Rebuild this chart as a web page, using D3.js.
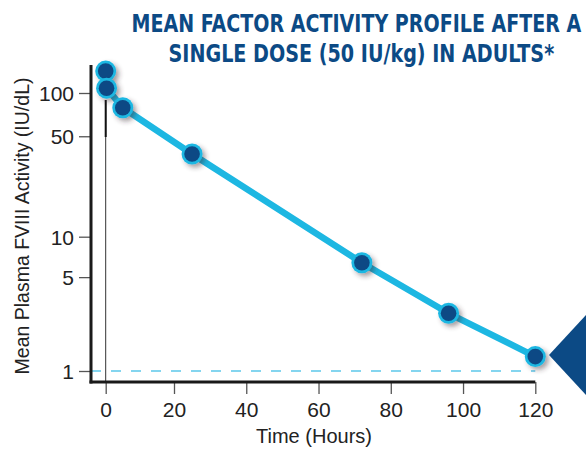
<!DOCTYPE html>
<html>
<head>
<meta charset="utf-8">
<script src="https://cdn.jsdelivr.net/npm/d3@7"></script>
<style>
  html, body { margin: 0; padding: 0; background: #ffffff; }
  svg { display: block; }
</style>
</head>
<body>
<div id="chart"></div>
<script>
// ---- data ----
const hours = [0, 0.25, 5, 25, 72, 96, 120];
const activity = [142, 108, 79, 37.6, 6.4, 2.69, 1.28];
const xTicks = [0, 20, 40, 60, 80, 100, 120];
const yTicks = [1, 5, 10, 50, 100];
const refLevel = [1];
const titleLines = ["MEAN FACTOR ACTIVITY PROFILE AFTER A", "SINGLE DOSE (50 IU/kg) IN ADULTS*"];
const xTitle = "Time (Hours)";
const yTitle = "Mean Plasma FVIII Activity (IU/dL)";

const W = 586, H = 451;
const navy = "#0c4a85";
const cyan = "#1db7e2";
const ink = "#222222";

const svg = d3.select("#chart").append("svg")
  .attr("width", W).attr("height", H);

const defs = svg.append("defs");
const f = defs.append("filter").attr("id", "shadow")
  .attr("x", "-50%").attr("y", "-50%").attr("width", "200%").attr("height", "200%");
f.append("feDropShadow").attr("dx", 3).attr("dy", 3).attr("stdDeviation", 2.5)
  .attr("flood-color", "#3a2a30").attr("flood-opacity", 0.45);

// scales (piecewise to follow the printed tick spacing)
const x = d3.scaleLinear().domain([0, 20, 120]).range([105.7, 174, 535.3]);
const y = d3.scaleLog().domain([1, 10, 100]).range([371, 236.7, 93]);

const axisLeftX = 91, axisBottomY = 382;

// title (condensed by a horizontal scale so the box really fits)
const titlePos = [{ x: 131.5, y: 32, w: 450 }, { x: 168.5, y: 62, w: 386 }];
svg.append("g").selectAll("text").data(titleLines).join("text")
  .attr("font-family", "'Liberation Sans Narrow', 'DejaVu Sans', sans-serif")
  .attr("font-weight", "bold")
  .attr("font-size", 25)
  .attr("fill", navy)
  .text(d => d)
  .each(function (d, i) {
    const nat = this.getComputedTextLength();
    const p = titlePos[i];
    const sx = nat > 0 ? p.w / nat : 1;
    d3.select(this).attr("transform", `translate(${p.x},${p.y}) scale(${sx},1)`);
  });

// reference dashed line at 1
svg.append("g").selectAll("line").data(refLevel).join("line")
  .attr("x1", axisLeftX).attr("x2", x(120))
  .attr("y1", d => y(d)).attr("y2", d => y(d))
  .attr("stroke", "#5cc8ea").attr("stroke-width", 1.5)
  .attr("stroke-dasharray", "10,10");

// thin vertical line at time 0
svg.append("line")
  .attr("x1", x(0)).attr("x2", x(0))
  .attr("y1", 100).attr("y2", axisBottomY)
  .attr("stroke", "#333").attr("stroke-width", 1);
svg.append("line")
  .attr("x1", x(0)).attr("x2", x(0))
  .attr("y1", 100).attr("y2", 137)
  .attr("stroke", "#111").attr("stroke-width", 2);

// y axis
const yAxis = d3.axisLeft(y).tickValues(yTicks).tickFormat(d3.format("d"))
  .tickSize(12).tickPadding(5);
const gy = svg.append("g").attr("transform", `translate(${axisLeftX},0)`).call(yAxis);
gy.select(".domain").remove();
gy.selectAll(".tick line").attr("stroke", "#555").attr("stroke-width", 1.3);
gy.selectAll(".tick text").attr("font-family", "'Liberation Sans', Arial, sans-serif")
  .attr("font-size", 21).attr("fill", ink).attr("dy", "0.36em");

// x axis
const xAxis = d3.axisBottom(x).tickValues(xTicks).tickFormat(d3.format("d"))
  .tickSize(12).tickPadding(8);
const gx = svg.append("g").attr("transform", `translate(0,${axisBottomY})`).call(xAxis);
gx.select(".domain").remove();
gx.selectAll(".tick line").attr("stroke", "#555").attr("stroke-width", 1.3);
gx.selectAll(".tick text").attr("font-family", "'Liberation Sans', Arial, sans-serif")
  .attr("font-size", 21).attr("fill", ink).attr("dy", "0.71em");

// axis lines
svg.append("line").attr("x1", axisLeftX).attr("x2", axisLeftX)
  .attr("y1", 65).attr("y2", axisBottomY + 1.5)
  .attr("stroke", "#1a1a1a").attr("stroke-width", 3);
svg.append("line").attr("x1", axisLeftX - 1.5).attr("x2", x(120))
  .attr("y1", axisBottomY).attr("y2", axisBottomY)
  .attr("stroke", "#1a1a1a").attr("stroke-width", 3);

// axis titles
svg.append("text").attr("x", 314).attr("y", 443)
  .attr("text-anchor", "middle")
  .attr("font-family", "'Liberation Sans', Arial, sans-serif")
  .attr("font-size", 20).attr("fill", ink).text(xTitle);
svg.append("text")
  .attr("transform", "translate(29,226) rotate(-90)")
  .attr("text-anchor", "middle")
  .attr("font-family", "'Liberation Sans', Arial, sans-serif")
  .attr("font-size", 19.5).attr("fill", ink).text(yTitle);

// data line
const pts = hours.map((h, i) => ({ h, v: activity[i] }));
const line = d3.line().x(d => x(d.h)).y(d => y(d.v));
svg.append("path").datum(pts.slice(1))
  .attr("d", line).attr("fill", "none")
  .attr("stroke", cyan).attr("stroke-width", 6.5).attr("stroke-linejoin", "round");

// points
const gp = svg.append("g").selectAll("g").data(pts).join("g")
  .attr("transform", d => `translate(${x(d.h)},${y(d.v)})`)
  .attr("filter", "url(#shadow)");
gp.append("circle").attr("r", 10.5).attr("fill", cyan);
gp.append("circle").attr("r", 7.8).attr("fill", navy);

// right-edge triangle marker
svg.append("path")
  .attr("d", d3.line()([[549, 355], [600, 300], [600, 410]]) + "Z")
  .attr("fill", navy);
</script>
</body>
</html>
